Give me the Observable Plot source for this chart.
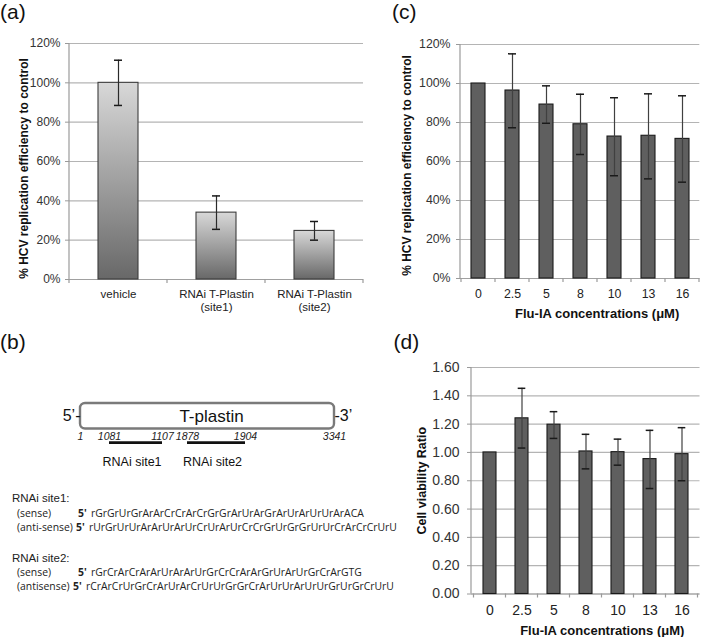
<!DOCTYPE html>
<html><head><meta charset="utf-8">
<script src="https://cdn.jsdelivr.net/npm/d3@7"></script>
<script src="https://cdn.jsdelivr.net/npm/@observablehq/plot@0.6"></script>
<style>
body{margin:0;background:#fff;}
#fig{position:relative;width:705px;height:637px;overflow:hidden;background:#fff;font-family:"Liberation Sans",Arial,Helvetica,sans-serif;color:#222;}
.plab{position:absolute;font-size:21px;line-height:1;white-space:nowrap;color:#111;}
.hdr{position:absolute;font-size:11.5px;line-height:1;white-space:nowrap;color:#222;}
.seq{position:absolute;font-family:"Open Sans",sans-serif;font-size:10.4px;line-height:1;white-space:nowrap;color:#222;}
.seq b{font-weight:700;}
</style></head><body>
<div id="fig"></div>
<script>
// ---------------- data ----------------
// (a) RNAi knock-down
const catsA = ["vehicle", "RNAi T-Plastin\n(site1)", "RNAi T-Plastin\n(site2)"];
const valA = [1.00, 0.34, 0.247];
const loA  = [0.885, 0.255, 0.20];
const hiA  = [1.115, 0.425, 0.295];

// (c) Flu-IA dose response on HCV replication
const concs = ["0", "2.5", "5", "8", "10", "13", "16"];
const valC = [1.00, 0.964, 0.892, 0.791, 0.728, 0.732, 0.716];
const loC  = [1.00, 0.773, 0.796, 0.636, 0.527, 0.511, 0.494];
const hiC  = [1.00, 1.152, 0.988, 0.945, 0.927, 0.947, 0.937];

// (d) Flu-IA cell viability
const valD = [1.00, 1.241, 1.196, 1.007, 1.002, 0.953, 0.988];
const loD  = [1.00, 1.031, 1.099, 0.884, 0.910, 0.745, 0.800];
const hiD  = [1.00, 1.453, 1.288, 1.128, 1.094, 1.156, 1.175];

const pctTicks = [0, 0.2, 0.4, 0.6, 0.8, 1.0, 1.2];
const ratioTicks = [0, 0.2, 0.4, 0.6, 0.8, 1.0, 1.2, 1.4, 1.6];

const yLabelHCV = "% HCV replication efficiency to control";
const yLabelViab = "Cell viability Ratio";
const xLabelConc = "Flu-IA concentrations (\u03bcM)";

// (b) T-plastin schematic (not drawn to scale)
const geneName = "T-plastin";
const gene = [{name: geneName, start: 1, end: 3341}];
const coords = [1, 1081, 1107, 1878, 1904, 3341];
const sites = [
  {name: "RNAi site1", start: 1081, end: 1107},
  {name: "RNAi site2", start: 1878, end: 1904}
];
const siteHeaders = ["RNAi site1:", "RNAi site2:"];
const strandLabels = ["(sense)", "(anti-sense)", "(sense)", "(antisense)"];
const sequences = [
  "rGrGrUrGrArArCrCrArCrGrGrArUrArGrArUrArUrUrArACA",
  "rUrGrUrUrArArUrArUrCrUrArUrCrCrGrUrGrGrUrUrCrArCrCrUrU",
  "rGrCrArCrArArUrArArUrGrCrCrArArGrUrArUrGrCrArGTG",
  "rCrArCrUrGrCrArUrArCrUrUrGrGrCrArUrUrArUrUrGrUrGrCrUrU"
];

// ---------------- helpers ----------------
const fig = document.getElementById("fig");
const FONT = "Liberation Sans, Arial, Helvetica, sans-serif";

function place(node, left, top, w, h) {
  const d = document.createElement("div");
  d.style.cssText = `position:absolute;left:${left}px;top:${top}px;width:${w}px;height:${h}px;`;
  d.appendChild(node);
  fig.appendChild(d);
}
function addText(txt, cls, left, top, html) {
  const d = document.createElement("div");
  d.className = cls;
  d.style.left = left + "px";
  d.style.top = top + "px";
  if (html) d.innerHTML = txt; else d.textContent = txt;
  fig.appendChild(d);
}
function yAxisLine(stroke) {
  return (index, scales, values, dims) =>
    d3.create("svg:line")
      .attr("x1", dims.marginLeft).attr("x2", dims.marginLeft)
      .attr("y1", dims.marginTop).attr("y2", dims.height - dims.marginBottom)
      .attr("stroke", stroke).attr("stroke-width", 1.2).node();
}
function bandTicks(cats, len, stroke) {
  return (index, scales, values, dims) => {
    const x = scales.x;
    const bw = x.bandwidth ? x.bandwidth() : 0;
    const centers = cats.map(c => x(c) + bw / 2);
    const step = centers[1] - centers[0];
    const bounds = [centers[0] - step / 2, ...centers.map(c => c + step / 2)];
    const y0 = dims.height - dims.marginBottom;
    const g = d3.create("svg:g").attr("stroke", stroke).attr("stroke-width", 1.2);
    for (const b of bounds) g.append("line").attr("x1", b).attr("x2", b).attr("y1", y0).attr("y2", y0 + len);
    return g.node();
  };
}
function gradientDefs(id, top, bottom) {
  return () => {
    const defs = d3.create("svg:defs");
    const g = defs.append("linearGradient").attr("id", id)
      .attr("x1", 0).attr("y1", 0).attr("x2", 0).attr("y2", 1);
    g.append("stop").attr("offset", "0%").attr("stop-color", top);
    g.append("stop").attr("offset", "100%").attr("stop-color", bottom);
    return defs.node();
  };
}

function barPanel(o) {
  const rows = o.cats.map((c, i) => ({cat: c, value: o.vals[i], lo: o.lo[i], hi: o.hi[i]}));
  const errRows = rows.filter(r => r.hi > r.lo);
  const marks = [];
  if (o.defs) marks.push(o.defs);
  marks.push(
    Plot.gridY(o.yTicks, {stroke: "#b4b4b4", strokeOpacity: 1, strokeWidth: 1.2}),
    Plot.ruleY([0], {stroke: "#a0a0a0", strokeWidth: 1.2}),
    Plot.barY(rows, {x: "cat", y: "value", fill: o.fill, stroke: o.barStroke, strokeWidth: 1.1}),
    Plot.ruleX(errRows, {x: "cat", y1: "lo", y2: "hi", stroke: o.errStroke, strokeWidth: 1.2}),
    Plot.tickY(errRows, {x: "cat", y: "hi", insetLeft: o.capInset, insetRight: o.capInset, stroke: "#1a1a1a", strokeWidth: 1.5}),
    Plot.tickY(errRows, {x: "cat", y: "lo", insetLeft: o.capInset, insetRight: o.capInset, stroke: "#1a1a1a", strokeWidth: 1.5}),
    yAxisLine("#9a9a9a"),
    bandTicks(o.cats, 4, "#9a9a9a"),
    Plot.axisY(o.yTicks, {tickFormat: o.yFmt, tickSize: 4, tickPadding: o.yPad, stroke: "#9a9a9a", fill: "#333", fontSize: o.yFont, label: null}),
    Plot.axisX({tickSize: 0, tickPadding: o.xPad, fill: "#222", fontSize: o.xFont, lineHeight: 1.08, label: null}),
    Plot.text([o.yLabel], {text: d => d, frameAnchor: "left", textAnchor: "middle", lineAnchor: "middle", rotate: -90, dx: o.yLabelDx, dy: o.yLabelDy, fontWeight: "bold", fontSize: o.yLabelFont, fill: "#111"})
  );
  if (o.xLabel) marks.push(
    Plot.text([o.xLabel], {text: d => d, frameAnchor: "bottom", textAnchor: "middle", lineAnchor: "middle", dx: o.xLabelDx, dy: o.xLabelDy, fontWeight: "bold", fontSize: 13, fill: "#111"})
  );
  const svg = Plot.plot({
    width: o.width, height: o.height,
    marginLeft: o.mL, marginRight: o.mR, marginTop: o.mT, marginBottom: o.mB,
    style: {fontFamily: FONT, background: "transparent", overflow: "visible", maxWidth: "none"},
    x: {type: "band", domain: o.cats, paddingInner: o.pi, paddingOuter: o.pi / 2},
    y: {domain: o.yDomain},
    marks
  });
  place(svg, o.left, o.top, o.width, o.height);
}

// ---------------- panel (a) ----------------
barPanel({
  left: 0, top: 0, width: 365, height: 320, mL: 69, mR: 2, mT: 43, mB: 41,
  cats: catsA, vals: valA, lo: loA, hi: hiA, pi: 0.59, capInset: 16,
  defs: gradientDefs("gradA", "#d8d8d8", "#686868"), fill: "url(#gradA)",
  barStroke: "#3c3c3c", errStroke: "#2a2a2a",
  yDomain: [0, 1.2], yTicks: pctTicks, yFmt: d3.format(".0%"), yPad: 5, yFont: 12,
  xPad: 10, xFont: 11.5,
  yLabel: yLabelHCV, yLabelDx: -45, yLabelDy: 7, yLabelFont: 12
});

// ---------------- panel (c) ----------------
barPanel({
  left: 350, top: 0, width: 355, height: 330, mL: 110, mR: 5.7, mT: 44, mB: 52,
  cats: concs, vals: valC, lo: loC, hi: hiC, pi: 0.58, capInset: 3,
  fill: "#5f5f5f", barStroke: "#1a1a1a", errStroke: "#404040",
  yDomain: [0, 1.2], yTicks: pctTicks, yFmt: d3.format(".0%"), yPad: 6, yFont: 12.3,
  xPad: 10, xFont: 12.3,
  yLabel: yLabelHCV, yLabelDx: -53, yLabelDy: 4, yLabelFont: 12,
  xLabel: xLabelConc, xLabelDx: 17, xLabelDy: 35
});

// ---------------- panel (d) ----------------
barPanel({
  left: 350, top: 320, width: 355, height: 317, mL: 121, mR: 5.5, mT: 47, mB: 43.5,
  cats: concs, vals: valD, lo: loD, hi: hiD, pi: 0.58, capInset: 2.7,
  fill: "#5f5f5f", barStroke: "#1a1a1a", errStroke: "#404040",
  yDomain: [0, 1.6], yTicks: ratioTicks, yFmt: d3.format(".2f"), yPad: 8, yFont: 14,
  xPad: 10.5, xFont: 14,
  yLabel: yLabelViab, yLabelDx: -49.3, yLabelDy: 0, yLabelFont: 12.5,
  xLabel: xLabelConc, xLabelDx: 16.5, xLabelDy: 36.5
});

// ---------------- panel (b) ----------------
// schematic (non-proportional) placement of sequence coordinates along the box
const schematic = d3.scaleLinear().domain(coords).range([0, 29, 82, 107, 165, 254]);
const svgB = Plot.plot({
  width: 360, height: 160, marginLeft: 80, marginRight: 26, marginTop: 83, marginBottom: 51.5,
  style: {fontFamily: FONT, background: "transparent", overflow: "visible", maxWidth: "none"},
  x: {transform: schematic, domain: [0, 254], axis: null},
  marks: [
    Plot.rect(gene, {x1: "start", x2: "end", rx: 5, fill: "white", stroke: "#7a7a7a", strokeWidth: 2.4}),
    Plot.text(gene, {text: "name", frameAnchor: "middle", dx: 4, fontSize: 17, fill: "#111"}),
    Plot.text(gene, {x: "start", text: () => "5\u2019-", textAnchor: "end", frameAnchor: "middle", lineAnchor: "middle", fontSize: 16, fill: "#111"}),
    Plot.text(gene, {x: "end", text: () => "-3\u2019", textAnchor: "start", frameAnchor: "middle", lineAnchor: "middle", fontSize: 16, fill: "#111"}),
    Plot.text(coords, {x: d => d, text: d => String(d), frameAnchor: "bottom", textAnchor: "middle", lineAnchor: "middle", dy: 8, fontStyle: "italic", fontSize: 10.5, fill: "#222"}),
    Plot.ruleY(sites, {x1: "start", x2: "end", y: null, dy: 26.3, stroke: "#111", strokeWidth: 2.8}),
    Plot.text(sites, {x: d => (d.start + d.end) / 2, text: "name", frameAnchor: "bottom", textAnchor: "middle", lineAnchor: "middle", dy: 33, dx: -4, fontSize: 12.5, fill: "#111"})
  ]
});
place(svgB, 0, 320, 360, 160);

// sequences
const hdrTop = [493.4, 553.4];
const rowTop = [508.4, 522.4, 567.4, 581.4];
const primeLeft = [78, 76, 78, 73];
const seqLeft = [91, 89, 91, 86];
siteHeaders.forEach((h, i) => addText(h, "hdr", 12, hdrTop[i]));
strandLabels.forEach((s, i) => {
  addText(s, "seq", 17, rowTop[i]);
  addText("<b>5'</b>", "seq", primeLeft[i], rowTop[i], true);
  addText(sequences[i], "seq", seqLeft[i], rowTop[i]);
});

// panel letters
addText("(a)", "plab", 0, 1.2);
addText("(c)", "plab", 392, 0.5);
addText("(b)", "plab", 0, 331.2);
addText("(d)", "plab", 393.5, 331.2);
</script>
</body></html>
